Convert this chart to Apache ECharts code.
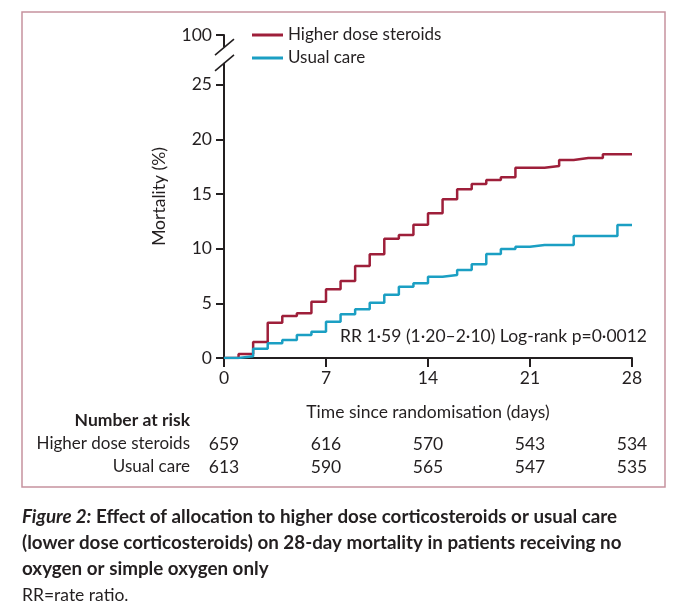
<!DOCTYPE html>
<html>
<head>
<meta charset="utf-8">
<script src="https://cdn.jsdelivr.net/npm/echarts@6/dist/echarts.min.js"></script>
<style>
  html, body { margin: 0; padding: 0; background: #fff; }
  #mortality { width: 680px; height: 614px; }
</style>
</head>
<body>
<div id="mortality"></div>
<script>
// data (cumulative mortality, %, value from that day on)
var days = [0,1,2,3,4,5,6,7,8,9,10,11,12,13,14,15,16,17,18,19,20,21,22,23,24,25,26,27,28];
var higherDose = [0,0.37,1.46,3.23,3.84,4.09,5.15,6.29,7.04,8.42,9.49,10.91,11.25,12.2,13.24,14.52,15.43,15.92,16.29,16.53,17.41,17.41,17.57,18.12,18.3,18.3,18.64,18.64,18.64];
var usualCare = [0,0.15,0.85,1.34,1.65,2.1,2.41,3.32,4.0,4.46,5.06,5.79,6.52,6.83,7.44,7.59,8.05,8.57,9.52,9.97,10.18,10.34,10.34,10.34,11.16,11.16,11.16,12.17,12.17];

var xTicks = [0, 7, 14, 21, 28];
var yTicks = [0, 5, 10, 15, 20, 25];
var yTopTick = 29.55;   // drawn above the axis break, labelled 100
var riskHigher = [659, 616, 570, 543, 534];
var riskUsual = [613, 590, 565, 547, 535];

var ink = '#231f20';
var redC = '#9e1f3a';
var blueC = '#1b9fc3';
var font = 'Lato';

function pairs(ys) {
  return days.map(function (d, i) { return [d, ys[i]]; });
}

var myChart = echarts.init(document.getElementById('mortality'));

myChart.setOption({
  backgroundColor: '#fff',
  animation: false,
  textStyle: { fontFamily: font, color: ink },
  grid: { left: 224, right: 48, top: 35, bottom: 256 },
  legend: {
    orient: 'vertical',
    left: 252,
    top: 25,
    padding: 0,
    itemWidth: 31,
    itemHeight: 3,
    itemGap: 3,
    icon: 'rect',
    textStyle: { fontFamily: font, fontSize: 17, color: ink, lineHeight: 20 },
    data: ['Higher dose steroids', 'Usual care']
  },
  xAxis: {
    type: 'value',
    min: 0,
    max: 28,
    interval: 7,
    name: 'Time since randomisation (days)',
    nameLocation: 'middle',
    nameGap: 45,
    nameTextStyle: { fontFamily: font, fontSize: 17.5, color: ink },
    axisLine: { lineStyle: { color: ink, width: 2 } },
    axisTick: { length: 9, lineStyle: { color: ink, width: 2 } },
    axisLabel: { fontFamily: font, fontSize: 17.5, color: ink, margin: 11 },
    splitLine: { show: false }
  },
  yAxis: {
    type: 'value',
    min: 0,
    max: yTopTick,
    name: 'Mortality (%)',
    nameLocation: 'middle',
    nameRotate: 90,
    nameGap: 56,
    nameTextStyle: { fontFamily: font, fontSize: 17.5, color: ink },
    axisLine: { show: true, lineStyle: { color: ink, width: 2 } },
    axisTick: { show: true, length: 8, customValues: yTicks.concat([yTopTick]), lineStyle: { color: ink, width: 2 } },
    axisLabel: {
      fontFamily: font, fontSize: 17.5, color: ink, margin: 12,
      customValues: yTicks.concat([yTopTick]),
      formatter: function (v) { return v > 26 ? '100' : String(v); }
    },
    splitLine: { show: false }
  },
  series: [
    {
      name: 'Higher dose steroids',
      type: 'line',
      step: 'end',
      showSymbol: false,
      itemStyle: { color: redC },
      lineStyle: { color: redC, width: 2.5 },
      data: pairs(higherDose)
    },
    {
      name: 'Usual care',
      type: 'line',
      step: 'end',
      showSymbol: false,
      itemStyle: { color: blueC },
      lineStyle: { color: blueC, width: 2.5 },
      data: pairs(usualCare)
    }
  ]
});

// decorations: axis break, annotation, number-at-risk table, frame, caption
function px(x, y) { return myChart.convertToPixel({ gridIndex: 0 }, [x, y]); }

var axisX = px(0, 0)[0];
var breakLow = px(0, 27.0)[1];
var breakHigh = px(0, 28.45)[1];
var g = [];

g.push({ type: 'rect', z: 100, shape: { x: axisX - 3, y: breakHigh, width: 6, height: breakLow - breakHigh }, style: { fill: '#fff' } });
[breakLow, breakHigh].forEach(function (yy) {
  g.push({ type: 'line', z: 101, shape: { x1: axisX - 9, y1: yy + 8, x2: axisX + 10, y2: yy - 8 }, style: { stroke: ink, lineWidth: 1.6 } });
});

g.push({
  type: 'text', right: 33, top: 327, z: 100,
  style: { text: 'RR 1·59 (1·20–2·10) Log-rank p=0·0012', font: '17.5px ' + font, fill: ink }
});

var labelRight = 190;
var f = '17px ' + font;
g.push({ type: 'text', x: labelRight, y: 420, style: { text: 'Number at risk', font: 'bold 17.5px ' + font, fill: ink, align: 'right', verticalAlign: 'middle' } });
g.push({ type: 'text', x: labelRight, y: 444, style: { text: 'Higher dose steroids', font: f, fill: ink, align: 'right', verticalAlign: 'middle' } });
g.push({ type: 'text', x: labelRight, y: 467, style: { text: 'Usual care', font: f, fill: ink, align: 'right', verticalAlign: 'middle' } });
xTicks.forEach(function (d, i) {
  var xx = px(d, 0)[0];
  g.push({ type: 'text', x: xx, y: 444, style: { text: String(riskHigher[i]), font: '17.5px ' + font, fill: ink, align: 'center', verticalAlign: 'middle' } });
  g.push({ type: 'text', x: xx, y: 467, style: { text: String(riskUsual[i]), font: '17.5px ' + font, fill: ink, align: 'center', verticalAlign: 'middle' } });
});

g.push({ type: 'rect', shape: { x: 22, y: 12, width: 643, height: 475 }, style: { fill: 'none', stroke: '#c6939f', lineWidth: 1.5 } });

g.push({
  type: 'text', x: 22, y: 504,
  style: {
    text: '{i|Figure 2:}{b| Effect of allocation to higher dose corticosteroids or usual care}\n' +
          '{b|(lower dose corticosteroids) on 28-day mortality in patients receiving no}\n' +
          '{b|oxygen or simple oxygen only}\n' +
          '{n|RR=rate ratio.}',
    fill: ink,
    rich: {
      i: { fontFamily: font, fontSize: 18.8, fontStyle: 'italic', fontWeight: 'bold', lineHeight: 26, fill: ink },
      b: { fontFamily: font, fontSize: 18.8, fontWeight: 'bold', lineHeight: 26, fill: ink },
      n: { fontFamily: font, fontSize: 17.5, lineHeight: 26, fill: ink }
    }
  }
});

myChart.setOption({ graphic: g });
</script>
</body>
</html>
